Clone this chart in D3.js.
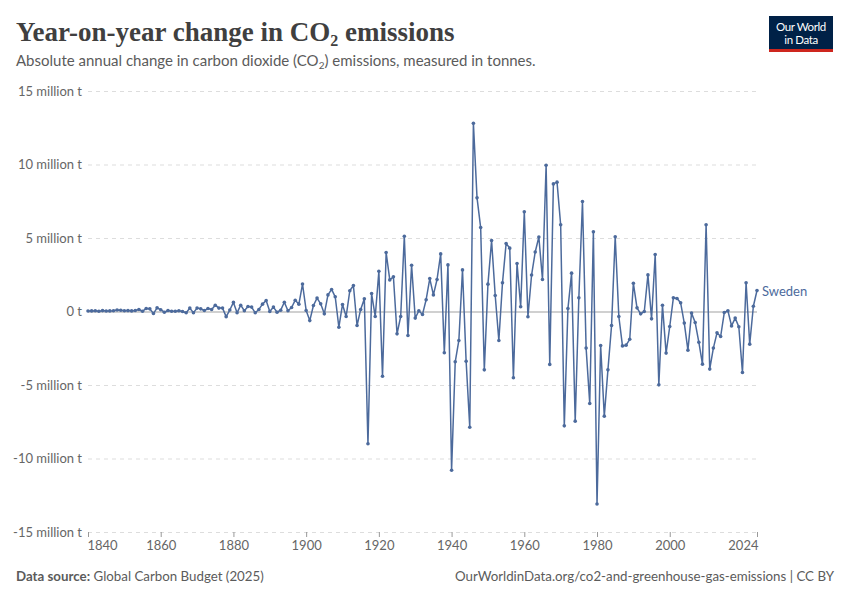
<!DOCTYPE html>
<html>
<head>
<meta charset="utf-8">
<script src="https://cdn.jsdelivr.net/npm/d3@7"></script>
<style>
  body { margin: 0; background: #fff; }
  svg { font-family: Lato, 'Noto Sans', sans-serif; }
</style>
</head>
<body>
<div id="chart"></div>
<script>
// annual change in CO2 emissions, Sweden, million tonnes, 1840-2024
const firstYear = 1840
const changes = [
  // 1840s
  0.03, 0.04, 0.05, 0.02, 0.06, 0.03, 0.04, 0.05, 0.1, 0.08,
  // 1850s
  0.05, 0.06, 0.04, 0.07, 0.14, 0.02, 0.2, 0.18, -0.14, 0.25,
  // 1860s
  0.12, -0.05, 0.07, 0.02, 0.02, 0.05, 0.0, -0.09, 0.23, -0.09,
  // 1870s
  0.23, 0.18, 0.07, 0.2, 0.14, 0.43, 0.23, 0.23, -0.35, 0.1,
  // 1880s
  0.62, -0.09, 0.43, 0.05, 0.34, 0.3, -0.09, 0.14, 0.5, 0.75,
  // 1890s
  0.0, 0.3, -0.05, 0.09, 0.63, 0.05, 0.27, 0.77, 0.5, 1.87,
  // 1900s
  0.07, -0.62, 0.41, 0.91, 0.52, -0.16, 1.13, 1.5, 1.0, -1.07,
  // 1910s
  0.48, -0.34, 1.41, 1.77, -0.95, 0.14, 0.86, -9.0, 1.22, -0.34,
  // 1920s
  2.74, -4.4, 4.01, 2.15, 2.36, -1.52, -0.34, 5.12, -1.63, 3.15,
  // 1930s
  -0.45, 0.05, -0.2, 0.8, 2.24, 1.13, 2.18, 3.92, -2.81, 3.17,
  // 1940s
  -10.8, -3.42, -1.97, 2.83, -3.38, -7.87, 12.8, 7.73, 5.71, -3.97,
  // 1950s
  1.86, 4.83, 1.09, -1.97, 1.95, 4.63, 4.31, -4.51, 3.27, 0.32,
  // 1960s
  6.78, -0.36, 2.48, 4.05, 5.07, 2.18, 9.95, -3.6, 8.68, 8.8,
  // 1970s
  5.9, -7.78, 0.2, 2.61, -7.46, 0.93, 7.48, -2.49, -6.26, 5.42,
  // 1980s
  -13.1, -2.31, -7.12, -3.97, -0.95, 5.08, -0.34, -2.34, -2.29, -1.89,
  // 1990s
  1.92, 0.25, -0.16, 0.0, 2.49, -0.5, 3.88, -4.99, 0.43, -2.83,
  // 2000s
  -1.02, 0.93, 0.88, 0.59, -0.79, -2.63, -0.11, -0.75, -2.09, -3.58,
  // 2010s
  5.9, -3.92, -2.49, -1.45, -1.7, -0.07, 0.05, -0.98, -0.45, -1.04,
  // 2020s
  -4.15, 1.95, -2.22, 0.36, 1.43
]
const years = changes.map((v, i) => firstYear + i)

const yTicks = [-15, -10, -5, 0, 5, 10, 15]
const xTicks = [1840, 1860, 1880, 1900, 1920, 1940, 1960, 1980, 2000, 2024]
const seriesName = 'Sweden'

const width = 850
const height = 600
const blue = '#4c6a9c'

const svg = d3.select('#chart').append('svg')
  .attr('width', width)
  .attr('height', height)

const x = d3.scaleLinear().domain([1840, 2024]).range([88, 757])
const y = d3.scaleLinear().domain([-15, 15]).range([532, 91])

// title block
svg.append('text')
  .attr('x', 16).attr('y', 41)
  .style('font-family', "'Liberation Serif', 'DejaVu Serif', serif")
  .style('font-size', '27px')
  .style('font-weight', 'bold')
  .style('fill', '#403f3f')
  .html('Year-on-year change in CO<tspan dy="5" font-size="16">2</tspan><tspan dy="-5"> emissions</tspan>')

svg.append('text')
  .attr('x', 16).attr('y', 66)
  .style('font-size', '15px')
  .style('fill', '#5b5b5b')
  .html('Absolute annual change in carbon dioxide (CO<tspan dy="3" font-size="10">2</tspan><tspan dy="-3">) emissions, measured in tonnes.</tspan>')

// logo
const logo = svg.append('g').attr('transform', 'translate(769,16)')
logo.append('rect').attr('width', 64).attr('height', 36).attr('fill', '#002147')
logo.append('rect').attr('y', 33).attr('width', 64).attr('height', 3).attr('fill', '#ce261e')
logo.append('text').attr('x', 32).attr('y', 15).attr('text-anchor', 'middle')
  .style('font-size', '11.5px').style('fill', '#fff').style('letter-spacing', '-0.4px').text('Our World')
logo.append('text').attr('x', 32).attr('y', 28).attr('text-anchor', 'middle')
  .style('font-size', '11.5px').style('fill', '#fff').style('letter-spacing', '-0.4px').text('in Data')

// y gridlines and labels
const yAxis = d3.axisLeft(y)
  .tickValues(yTicks)
  .tickSize(-(757 - 88))
  .tickPadding(6)
  .tickFormat(d => d + ' million t')

svg.append('g')
  .attr('class', 'axis y')
  .attr('transform', 'translate(88,0)')
  .call(yAxis)
  .call(g => g.select('.domain').remove())
  .call(g => g.selectAll('.tick line')
    .style('stroke', '#ddd')
    .style('stroke-dasharray', '4,4'))
  .call(g => g.selectAll('.tick').filter(d => d === 0).select('line')
    .style('stroke', '#a1a1a1')
    .style('stroke-dasharray', null))
  .call(g => g.selectAll('.tick').filter(d => d === 0).select('text').text('0 t'))
  .call(g => g.selectAll('text')
    .attr('x', -6)
    .style('font-family', "Lato, sans-serif")
    .style('font-size', '13px')
    .style('fill', '#666'))

// x axis
const xAxis = d3.axisBottom(x)
  .tickValues(xTicks)
  .tickSize(5)
  .tickPadding(4)
  .tickFormat(d3.format('d'))

svg.append('g')
  .attr('class', 'axis x')
  .attr('transform', 'translate(0,532)')
  .call(xAxis)
  .call(g => g.select('.domain').remove())
  .call(g => g.selectAll('.tick line').style('stroke', '#999'))
  .call(g => g.selectAll('text')
    .style('font-family', "Lato, sans-serif")
    .style('font-size', '13px')
    .style('fill', '#666'))
  .call(g => g.selectAll('.tick').filter(d => d === 1840).select('text').attr('text-anchor', 'start').attr('x', -1))
  .call(g => g.selectAll('.tick').filter(d => d === 2024).select('text').attr('text-anchor', 'end').attr('x', 1))

// line and points
const points = changes.map((v, i) => ({ year: years[i], value: v }))

const line = d3.line()
  .x(d => x(d.year))
  .y(d => y(d.value))

svg.append('path')
  .datum(points)
  .attr('d', line)
  .style('fill', 'none')
  .style('stroke', blue)
  .style('stroke-width', 1.5)
  .style('stroke-linejoin', 'round')

svg.append('g').selectAll('circle')
  .data(points)
  .enter()
  .append('circle')
  .attr('cx', d => x(d.year))
  .attr('cy', d => y(d.value))
  .attr('r', 1.8)
  .style('fill', blue)

const last = points[points.length - 1]
svg.append('text')
  .attr('x', x(last.year) + 5)
  .attr('y', y(last.value) + 6)
  .style('font-size', '13px')
  .style('fill', blue)
  .text(seriesName)

// footer
svg.append('text')
  .attr('x', 16).attr('y', 581)
  .style('font-size', '13.3px')
  .style('fill', '#5b5b5b')
  .html('<tspan font-weight="bold">Data source:</tspan> Global Carbon Budget (2025)')

svg.append('text')
  .attr('x', 834).attr('y', 581)
  .attr('text-anchor', 'end')
  .style('font-size', '13.3px')
  .style('fill', '#5b5b5b')
  .text('OurWorldinData.org/co2-and-greenhouse-gas-emissions | CC BY')
</script>
</body>
</html>
